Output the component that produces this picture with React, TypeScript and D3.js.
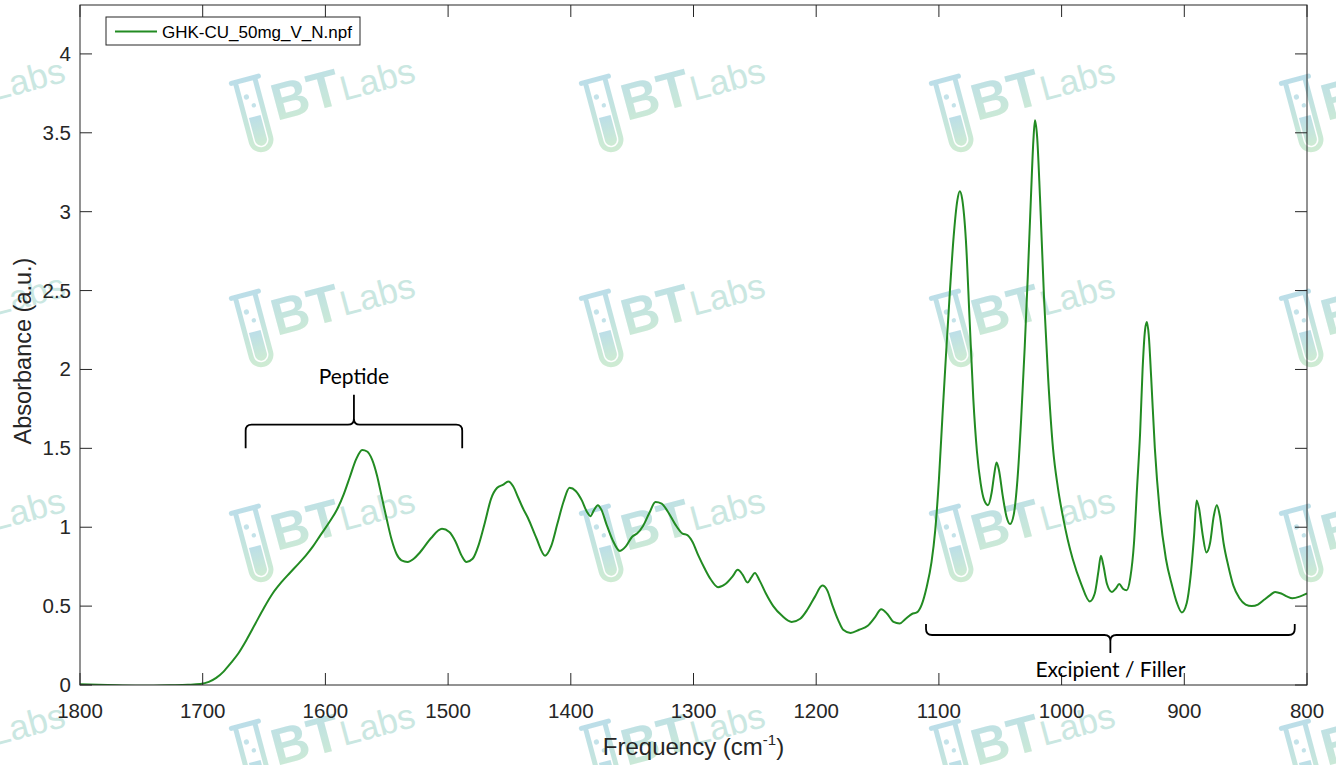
import React from 'react';
import * as d3 from 'd3';

// FTIR spectrum (wavenumber in cm^-1, absorbance in a.u.)
const wavenumber = [
  1800, 1785, 1770, 1755, 1740, 1725, 1712, 1702, 1695, 1689, 1683, 1677, 1671, 1664, 1657, 1650,
  1643, 1636, 1629, 1623, 1616, 1610, 1604, 1597, 1590, 1585, 1580, 1575, 1570, 1566, 1562, 1558,
  1554, 1550, 1546, 1542, 1538, 1533, 1528, 1523, 1514, 1505, 1499, 1494, 1489, 1485, 1480, 1475,
  1470, 1465, 1460, 1455, 1451, 1447, 1443, 1439, 1435, 1428, 1421, 1416, 1411, 1406, 1401, 1396,
  1391, 1387, 1384, 1381, 1378, 1375, 1371, 1366, 1360, 1355, 1350, 1346, 1341, 1336, 1331, 1326,
  1321, 1315, 1309, 1305, 1301, 1296, 1291, 1286, 1280, 1274, 1268, 1264, 1260, 1256, 1253, 1250,
  1246, 1241, 1235, 1228, 1220, 1213, 1207, 1201, 1195, 1191, 1187, 1182, 1178, 1172, 1165, 1158,
  1152, 1147, 1142, 1137, 1132, 1127, 1122, 1118, 1114, 1110, 1106, 1103, 1100, 1097, 1094, 1091,
  1088, 1085, 1083, 1081, 1078, 1075, 1072, 1069, 1066, 1063, 1060, 1057, 1055, 1053, 1051, 1048,
  1045, 1042, 1039, 1036, 1033, 1030, 1027.5, 1025, 1023, 1021.7, 1020, 1017.6, 1014.3, 1011, 1007, 1003,
  999, 995, 991, 984, 977, 973, 970, 968, 966, 963, 959, 956, 953, 950, 947, 944,
  941, 938.5, 936, 934, 932, 930.5, 929, 927, 924, 920, 915, 910, 906, 902, 898, 895,
  892, 890, 888, 885, 882, 879, 876, 873.5, 871, 868, 864, 860, 855, 850, 845, 840,
  835, 830, 826, 821, 816, 812, 806, 800,
];
const absorbance = [
  0.004, 0.002, -0.002, -0.004, -0.004, -0.002, 0.001, 0.006, 0.02, 0.045, 0.085, 0.14, 0.2, 0.29, 0.39, 0.49,
  0.58, 0.65, 0.71, 0.76, 0.82, 0.88, 0.95, 1.03, 1.12, 1.21, 1.32, 1.43, 1.49, 1.48, 1.43, 1.33,
  1.19, 1.05, 0.92, 0.83, 0.79, 0.78, 0.8, 0.84, 0.93, 0.99, 0.97, 0.91, 0.82, 0.78, 0.8, 0.89,
  1.03, 1.18, 1.25, 1.27, 1.29, 1.26, 1.19, 1.12, 1.06, 0.93, 0.82, 0.88, 1.02, 1.16, 1.25, 1.23,
  1.17, 1.1, 1.07, 1.11, 1.14, 1.11, 1.02, 0.92, 0.85, 0.88, 0.94, 0.96, 1.01, 1.09, 1.16, 1.15,
  1.1, 1.02, 0.96, 0.95, 0.91, 0.82, 0.74, 0.67, 0.62, 0.64, 0.69, 0.73, 0.7, 0.65, 0.68, 0.71,
  0.66, 0.58, 0.5, 0.44, 0.4, 0.42, 0.48, 0.56, 0.63, 0.6, 0.51, 0.41, 0.35, 0.33, 0.35, 0.375,
  0.43, 0.48, 0.45, 0.4, 0.39, 0.42, 0.45, 0.46, 0.51, 0.62, 0.78, 0.98, 1.3, 1.72, 2.12, 2.5,
  2.84, 3.07, 3.13, 3.08, 2.82, 2.32, 1.82, 1.48, 1.28, 1.17, 1.14, 1.22, 1.33, 1.41, 1.36, 1.2,
  1.07, 1.02, 1.08, 1.3, 1.68, 2.15, 2.6, 3.09, 3.45, 3.58, 3.48, 3.09, 2.45, 1.95, 1.5, 1.25,
  1.07, 0.92, 0.8, 0.64, 0.53, 0.58, 0.72, 0.82, 0.76, 0.64, 0.59, 0.61, 0.64, 0.61, 0.6, 0.68,
  0.9, 1.25, 1.6, 2.0, 2.25, 2.3, 2.22, 1.95, 1.5, 1.1, 0.8, 0.63, 0.52, 0.46, 0.52, 0.68,
  0.95, 1.17, 1.12, 0.95, 0.84, 0.9, 1.07, 1.14, 1.07, 0.9, 0.75, 0.63, 0.55, 0.51, 0.5, 0.51,
  0.54, 0.57, 0.59, 0.58, 0.56, 0.55, 0.56, 0.58,
];

const xTicks = [1800, 1700, 1600, 1500, 1400, 1300, 1200, 1100, 1000, 900, 800];
const yTicks = [0, 0.5, 1, 1.5, 2, 2.5, 3, 3.5, 4];
const seriesName = 'GHK-CU_50mg_V_N.npf';

// brace annotations: span in cm^-1, ends / bar / tip / label level in absorbance
const braceLabels = ['Peptide', 'Excipient / Filler'];
const braceFrom = [1665, 1110.5];
const braceTo = [1488.5, 810];
const braceEnd = [1.5, 0.387];
const braceBar = [1.65, 0.317];
const braceTip = [1.84, 0.203];
const braceText = [1.91, 0.05];

// watermark grid
const wmCols = [-70, 280, 630, 980, 1330];
const wmRows = [118, 333, 548, 763];

const W = 1336;
const H = 765;
const plot = { left: 80, right: 1307, top: 5, bottom: 685 };
const axisColor = '#262626';
const lineColor = '#228b22';
const font = '"Liberation Sans", Arial, Helvetica, sans-serif';
const noteFont = 'Lato, "Open Sans", sans-serif';

const x = d3.scaleLinear().domain([1800, 800]).range([plot.left, plot.right]);
const y = d3.scaleLinear().domain([0, 4.31]).range([plot.bottom, plot.top]);

const points: [number, number][] = wavenumber.map((w, i) => [w, absorbance[i]]);
const line = d3
  .line<[number, number]>()
  .x((d) => x(d[0]))
  .y((d) => y(d[1]))
  .curve(d3.curveMonotoneX);

function bracePath(x0: number, x1: number, yEnd: number, yBar: number, yTip: number) {
  const xc = (x0 + x1) / 2;
  const dir = yBar < yEnd ? -1 : 1; // -1: bar above ends
  const r = 6;
  return [
    `M${x0},${yEnd}`,
    `L${x0},${yBar - dir * r}`,
    `Q${x0},${yBar} ${x0 + r},${yBar}`,
    `L${xc - r},${yBar}`,
    `Q${xc},${yBar} ${xc},${yBar + dir * r}`,
    `L${xc},${yTip}`,
    `M${xc},${yBar + dir * r}`,
    `Q${xc},${yBar} ${xc + r},${yBar}`,
    `L${x1 - r},${yBar}`,
    `Q${x1},${yBar} ${x1},${yBar - dir * r}`,
    `L${x1},${yEnd}`,
  ].join(' ');
}

const Watermark: React.FC<{ tx: number; ty: number }> = ({ tx, ty }) => (
  <g transform={`translate(${tx},${ty}) rotate(-15)`} opacity={0.8}>
    {/* test tube */}
    <path
      d="M-38,-46 L-10,-46 M-34,-46 L-34,16 A10,10 0 0 0 -14,16 L-14,-46"
      fill="none"
      stroke="url(#wmGrad)"
      strokeWidth={5}
      strokeLinecap="round"
    />
    <path d="M-30,-8 L-18,-8 L-18,16 A6,6 0 0 1 -30,16 Z" fill="url(#wmGrad)" />
    <circle cx={-27} cy={-29} r={2.6} fill="#b6dce4" />
    <circle cx={-22} cy={-19} r={2.2} fill="#b6dce4" />
    <text x={-4} y={2} fontFamily={font} fontWeight="bold" fontSize={52} fill="url(#wmGrad)">
      BT
    </text>
    <text x={66} y={0} fontFamily={font} fontSize={35} fill="#bde2da">
      Labs
    </text>
  </g>
);

export default function App() {
  return (
    <svg
      width={W}
      height={H}
      viewBox={`0 0 ${W} ${H}`}
      style={{ position: 'absolute', left: 0, top: 0, background: '#fff' }}
    >
      <defs>
        <linearGradient id="wmGrad" x1="0" y1="0" x2="0" y2="1">
          <stop offset="0%" stopColor="#acd7e3" />
          <stop offset="100%" stopColor="#c2e7c9" />
        </linearGradient>
        <clipPath id="plotClip">
          <rect x={plot.left} y={plot.top} width={plot.right - plot.left} height={plot.bottom - plot.top} />
        </clipPath>
      </defs>
      <rect width={W} height={H} fill="#fff" />

      {wmRows.map((ty) => wmCols.map((tx) => <Watermark key={`${tx}-${ty}`} tx={tx} ty={ty} />))}

      {/* spectrum */}
      <path d={line(points) ?? ''} fill="none" stroke={lineColor} strokeWidth={2} clipPath="url(#plotClip)" />

      {/* axes box */}
      <rect
        x={plot.left}
        y={plot.top}
        width={plot.right - plot.left}
        height={plot.bottom - plot.top}
        fill="none"
        stroke={axisColor}
        strokeWidth={1}
      />

      {/* x ticks (bottom + top, inward) */}
      {xTicks.map((t) => (
        <g key={`x${t}`}>
          <line x1={x(t)} x2={x(t)} y1={plot.bottom} y2={plot.bottom - 12} stroke={axisColor} />
          <line x1={x(t)} x2={x(t)} y1={plot.top} y2={plot.top + 12} stroke={axisColor} />
          <text x={x(t)} y={plot.bottom + 33} textAnchor="middle" fontFamily={font} fontSize={20.5} fill={axisColor}>
            {t}
          </text>
        </g>
      ))}

      {/* y ticks (left + right, inward) */}
      {yTicks.map((t) => (
        <g key={`y${t}`}>
          <line x1={plot.left} x2={plot.left + 12} y1={y(t)} y2={y(t)} stroke={axisColor} />
          <line x1={plot.right} x2={plot.right - 12} y1={y(t)} y2={y(t)} stroke={axisColor} />
          <text x={plot.left - 9} y={y(t) + 7} textAnchor="end" fontFamily={font} fontSize={20.5} fill={axisColor}>
            {t}
          </text>
        </g>
      ))}

      {/* axis labels */}
      <text
        transform={`translate(31,${(plot.top + plot.bottom) / 2 + 6}) rotate(-90)`}
        textAnchor="middle"
        fontFamily={font}
        fontSize={23.5}
        fill={axisColor}
      >
        Absorbance (a.u.)
      </text>
      <text
        x={(plot.left + plot.right) / 2}
        y={755}
        textAnchor="middle"
        fontFamily={font}
        fontSize={24}
        fill={axisColor}
      >
        Frequency (cm
        <tspan fontSize={15} dy={-10}>
          -1
        </tspan>
        <tspan dy={10}>)</tspan>
      </text>

      {/* legend */}
      <rect x={106} y={17} width={254} height={28} fill="#fff" stroke={axisColor} strokeWidth={1} />
      <line x1={115} x2={157} y1={31.5} y2={31.5} stroke={lineColor} strokeWidth={2} />
      <text x={162} y={38} fontFamily={font} fontSize={17} fill="#000">
        {seriesName}
      </text>

      {/* brace annotations */}
      {braceLabels.map((label, i) => {
        const x0 = x(braceFrom[i]);
        const x1 = x(braceTo[i]);
        return (
          <g key={label}>
            <path
              d={bracePath(x0, x1, y(braceEnd[i]), y(braceBar[i]), y(braceTip[i]))}
              fill="none"
              stroke="#000"
              strokeWidth={1.8}
            />
            <text
              x={(x0 + x1) / 2}
              y={y(braceText[i])}
              textAnchor="middle"
              fontFamily={noteFont}
              fontSize={21}
              fill="#000"
            >
              {label}
            </text>
          </g>
        );
      })}
    </svg>
  );
}
